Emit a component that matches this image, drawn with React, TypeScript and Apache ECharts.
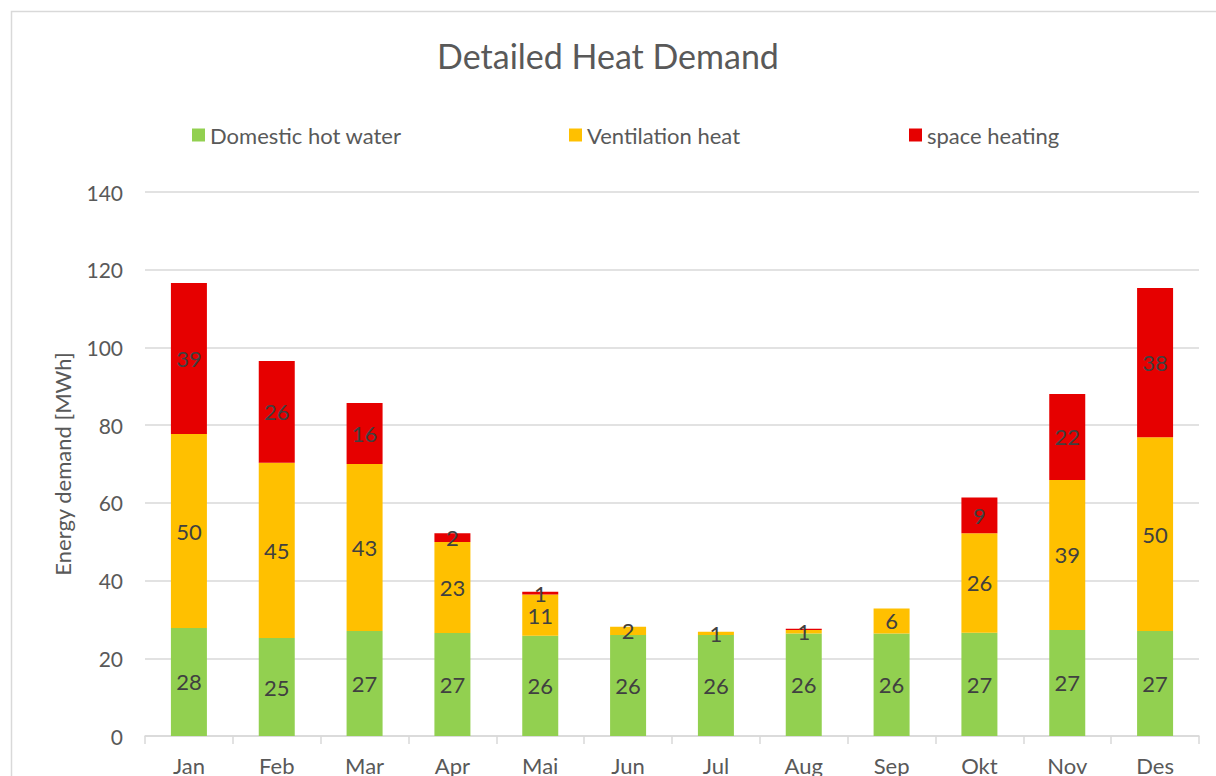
import React, { useEffect, useRef } from "react";
import * as echarts from "echarts";

const months = ["Jan", "Feb", "Mar", "Apr", "Mai", "Jun", "Jul", "Aug", "Sep", "Okt", "Nov", "Des"];
const domesticHotWater = [27.8, 25.2, 27.0, 26.5, 25.8, 26.0, 26.0, 26.4, 26.4, 26.6, 27.3, 27.0];
const ventilationHeat = [49.9, 45.1, 43.0, 23.4, 10.6, 2.1, 0.8, 0.9, 6.4, 25.6, 38.6, 49.9];
const spaceHeating = [38.9, 26.2, 15.7, 2.3, 0.7, 0, 0, 0.3, 0, 9.2, 22.1, 38.4];

const FONT = "Lato, 'Open Sans', sans-serif";

const labelCfg = {
  show: true,
  position: "inside",
  color: "#404040",
  fontSize: 22,
  fontFamily: FONT,
  formatter: (p: any) => {
    const v = Math.round(p.value);
    return v === 0 ? "" : String(v);
  },
};

export default function App() {
  const ref = useRef<HTMLDivElement>(null);
  useEffect(() => {
    if (!ref.current) return;
    const chart = echarts.init(ref.current, undefined, { renderer: "svg" });
    const legendText = { color: "#595959", fontSize: 22, fontFamily: FONT };
    chart.setOption({
      animation: false,
      backgroundColor: "#ffffff",
      title: {
        text: "Detailed Heat Demand",
        left: "center",
        top: 33,
        textStyle: { color: "#595959", fontSize: 34, fontWeight: "normal", fontFamily: FONT },
      },
      graphic: [
        {
          type: "rect",
          shape: { x: 11.5, y: 11.5, width: 1400, height: 1000 },
          style: { fill: "none", stroke: "#d9d9d9", lineWidth: 1.5 },
          silent: true,
        },
      ],
      legend: [
        { data: ["Domestic hot water"], left: 187, top: 119, itemWidth: 13, itemHeight: 13, textStyle: legendText, icon: "rect" },
        { data: ["Ventilation heat"], left: 564, top: 119, itemWidth: 13, itemHeight: 13, textStyle: legendText, icon: "rect" },
        { data: ["space heating"], left: 904, top: 119, itemWidth: 13, itemHeight: 13, textStyle: legendText, icon: "rect" },
      ],
      grid: { left: 145, right: 17, top: 192, bottom: 40, containLabel: false },
      xAxis: {
        type: "category",
        data: months,
        axisLine: { lineStyle: { color: "#d9d9d9", width: 1.5 } },
        axisTick: { show: true, length: 8, lineStyle: { color: "#d9d9d9", width: 1.5 } },
        axisLabel: { color: "#595959", fontSize: 22, fontFamily: FONT, margin: 18 },
      },
      yAxis: {
        type: "value",
        min: 0,
        max: 140,
        interval: 20,
        name: "Energy demand [MWh]",
        nameLocation: "middle",
        nameGap: 72,
        nameTextStyle: { color: "#595959", fontSize: 22, fontFamily: FONT },
        axisLine: { show: false },
        axisTick: { show: false },
        axisLabel: { color: "#595959", fontSize: 21, fontFamily: FONT, margin: 22 },
        splitLine: { lineStyle: { color: "#d9d9d9", width: 1.5 } },
      },
      series: [
        { name: "Domestic hot water", type: "bar", stack: "total", barWidth: 36, data: domesticHotWater, itemStyle: { color: "#92D050" }, label: labelCfg },
        { name: "Ventilation heat", type: "bar", stack: "total", barWidth: 36, data: ventilationHeat, itemStyle: { color: "#FFC000" }, label: labelCfg },
        { name: "space heating", type: "bar", stack: "total", barWidth: 36, data: spaceHeating, itemStyle: { color: "#E60000" }, label: labelCfg },
      ],
    });
    return () => chart.dispose();
  }, []);
  return <div ref={ref} style={{ position: "absolute", left: 0, top: 0, width: 1216, height: 776 }} />;
}
